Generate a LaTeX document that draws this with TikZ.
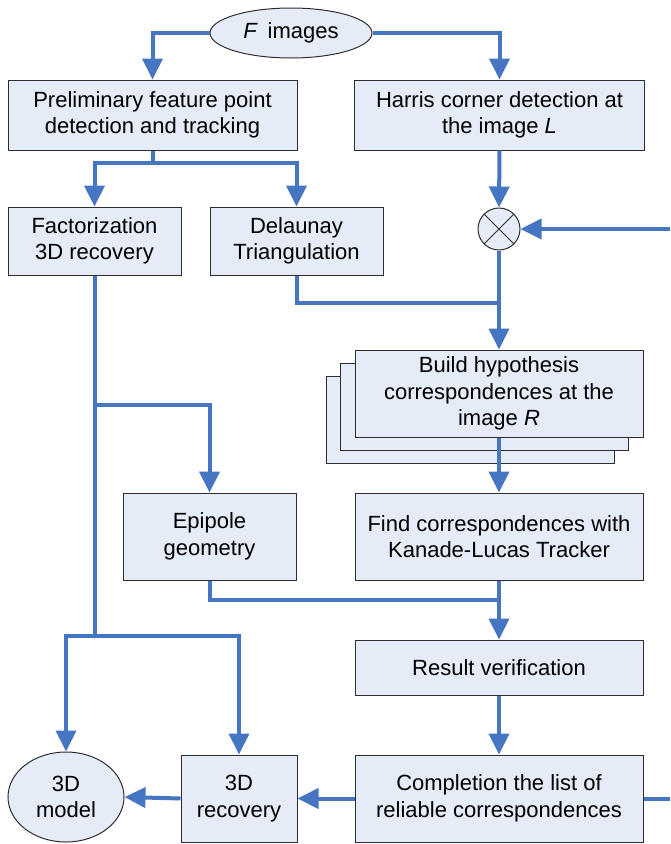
\documentclass[tikz,border=0pt]{standalone}
\usepackage{fontspec}
\setmainfont{Liberation Sans}
\usetikzlibrary{positioning,shapes,arrows.meta}
\definecolor{boxfill}{RGB}{230,236,247}
\definecolor{flowblue}{RGB}{70,117,193}
\definecolor{boxedge}{RGB}{45,45,45}

\begin{document}
\begin{tikzpicture}[x=1pt,y=-1pt,
    box/.style={draw=boxedge, fill=boxfill, rectangle, align=center, inner sep=0pt, line width=1pt},
    oval/.style={draw=boxedge, fill=boxfill, ellipse, align=center, inner sep=0pt, line width=1pt},
    flow/.style={draw=flowblue, line width=4pt, -{Triangle[length=21pt,width=20pt]}},
    link/.style={draw=flowblue, line width=4pt},
    font=\fontsize{22}{26.5}\selectfont]
    \useasboundingbox (0,0) rectangle (670,844);

    \node (images) [oval, minimum width=162pt, minimum height=50pt] at (291,33) {\textit{F}\, images};

    \node (prelim) [box, minimum width=289pt, minimum height=70pt] at (152.5,115) {Preliminary feature point\\detection and tracking};
    \node (harris) [box, minimum width=290pt, minimum height=70pt] at (499.5,115) {Harris corner detection at\\the image \textit{L}};

    \node (factor) [box, minimum width=173pt, minimum height=68pt] at (94.5,241) {Factorization\\3D recovery};
    \node (delaunay) [box, minimum width=173pt, minimum height=68pt] at (296.5,241) {Delaunay\\Triangulation};
    \node (cross) [draw=boxedge, fill=boxfill, circle, line width=1pt, minimum size=42pt, inner sep=0pt] at (499,229) {};
    \draw[boxedge, line width=1pt] (cross.north west) -- (cross.south east) (cross.north east) -- (cross.south west);

    % stacked hypothesis boxes
    \node (buildC) [box, minimum width=288pt, minimum height=87pt] at (470,420) {};
    \node (buildB) [box, minimum width=288pt, minimum height=87pt] at (484.5,406.5) {};
    \node (build) [box, minimum width=288pt, minimum height=87pt] at (499,393.5) {Build hypothesis\\correspondences at the\\image \textit{R}};

    \node (epipole) [box, minimum width=173pt, minimum height=87pt] at (209.5,536.5) {Epipole\\geometry};
    \node (find) [box, minimum width=288pt, minimum height=87pt] at (499,536.5) {Find correspondences with\\Kanade-Lucas Tracker};
    \node (result) [box, minimum width=288pt, minimum height=55pt] at (499,667.5) {Result verification};

    \node (model) [oval, minimum width=116pt, minimum height=90pt] at (66,797) {3D\\model};
    \node (recover) [box, minimum width=116pt, minimum height=87pt] at (239,798.5) {3D\\recovery};
    \node (complete) [box, minimum width=288pt, minimum height=87pt] at (499,798.5) {Completion the list of\\reliable correspondences};

    \coordinate (split1) at (152.5,163);
    \coordinate (split2) at (94.5,405);
    \coordinate (split3) at (94.5,636);
    \coordinate (join1) at (499,303);
    \coordinate (join2) at (499,600);
    \coordinate (loopin) at (670,229);
    \coordinate (loopout) at (670,798.5);

    % connectors
    \draw[flow] (images.west) -| (prelim.north);
    \draw[flow] (images.east) -| (harris.north);
    \draw[link] (prelim.south) -- (split1);
    \draw[flow] (split1) -| (factor.north);
    \draw[flow] (split1) -| (delaunay.north);
    \draw[flow] (harris.south) -- (cross.north);
    \draw[flow] (loopin) -- (cross.east);
    \draw[flow] (cross.south) -- (build.north);
    \draw[link] (delaunay.south) |- (join1);
    \draw[flow] (build.south) -- (find.north);
    \draw[link] (factor.south) -- (split3);
    \draw[flow] (split2) -| (epipole.north);
    \draw[flow] (split3) -| (model.north);
    \draw[flow] (split3) -| (recover.north);
    \draw[link] (epipole.south) |- (join2);
    \draw[flow] (find.south) -- (result.north);
    \draw[flow] (result.south) -- (complete.north);
    \draw[flow] (complete.west) -- (recover.east);
    \draw[flow] (recover.west) -- (model.east);
    \draw[link] (complete.east) -- (loopout);
\end{tikzpicture}
\end{document}
